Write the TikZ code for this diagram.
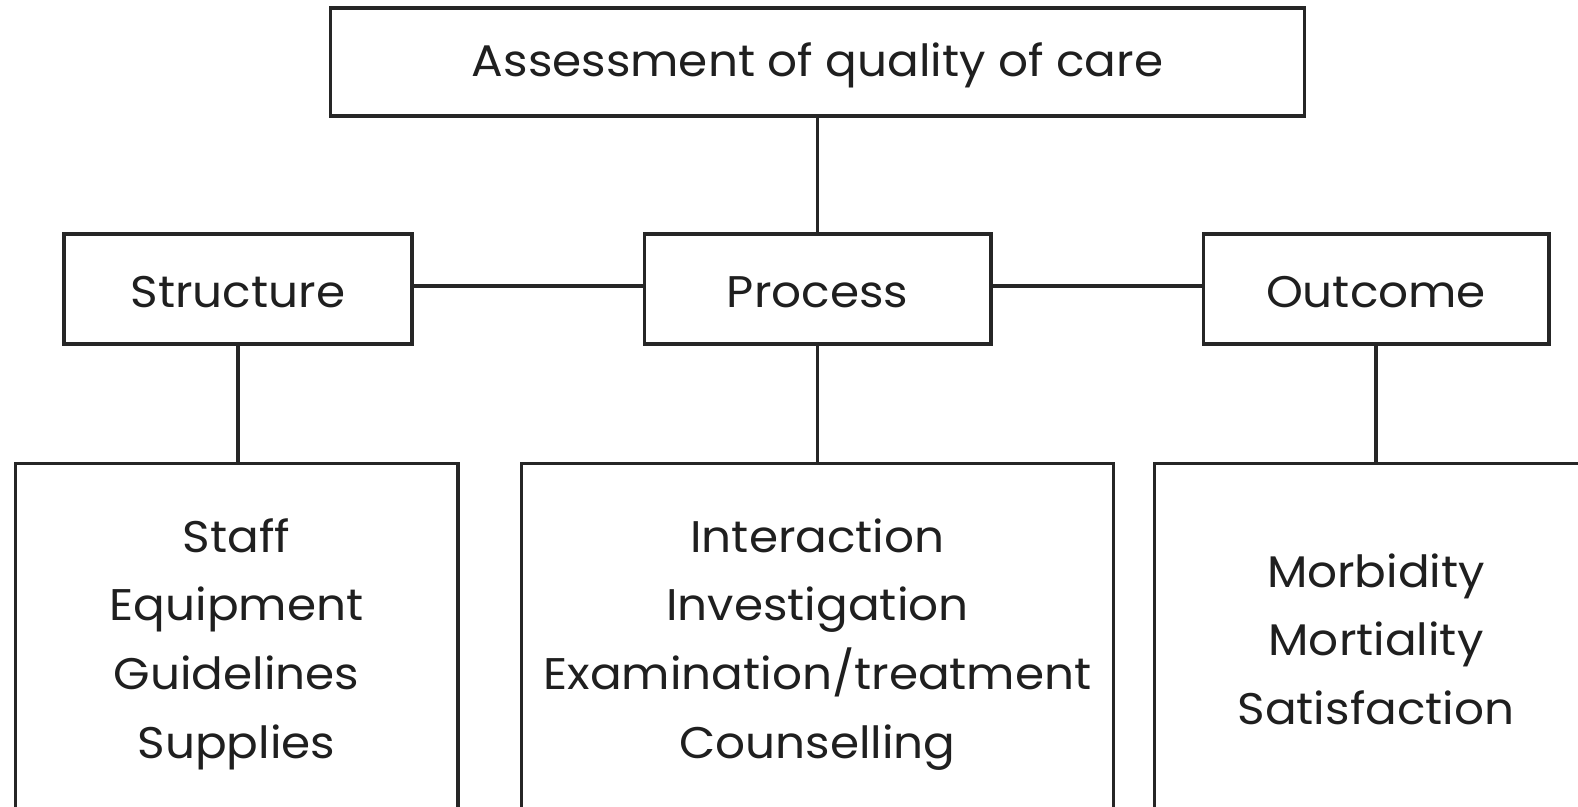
\documentclass[tikz,border=0pt]{standalone}
\usepackage{fontspec}
\setmainfont{Poppins}[FakeStretch=1.06]
\begin{document}
\begin{tikzpicture}[x=0.02cm,y=-0.02cm,
  box/.style={draw=black!85,line width=1.75pt,rectangle,inner sep=0pt},
  txt/.style={anchor=base,inner sep=0pt,font=\fontsize{25.2}{39.1}\selectfont,text=black!88},
  link/.style={draw=black!85,line width=1.75pt}]
\useasboundingbox (0,0) rectangle (1578,807);
\clip (0,0) rectangle (1578,807);
\fill[white] (0,0) rectangle (1578,807);
% boxes
\node[box,minimum width=19.5cm,minimum height=2.16cm] (top) at (817.5,62) {};
\node[box,minimum width=6.96cm,minimum height=2.2cm] (S) at (238,289) {};
\node[box,minimum width=6.94cm,minimum height=2.2cm] (P) at (817.5,289) {};
\node[box,minimum width=6.92cm,minimum height=2.2cm] (O) at (1376,289) {};
\node[box,minimum width=8.86cm,minimum height=7.2cm] (BS) at (236.5,643) {};
\node[box,minimum width=11.86cm,minimum height=7.2cm] (BP) at (817.5,643) {};
\node[box,minimum width=8.88cm,minimum height=7.2cm] (BO) at (1376,643) {};
% texts
\node[txt] (topT) at (top.center |- 0,77) {Assessment of quality of care};
\node[txt] (ST) at (S.center |- 0,308) {Structure};
\node[txt] (PT) at (P.center |- 0,308) {Process};
\node[txt] (OT) at (O.center |- 0,308) {Outcome};
\node[txt] (BST) at (BS.center |- 0,552) {\begin{tabular}[t]{@{}c@{}}Staff\\Equipment\\Guidelines\\Supplies\end{tabular}};
\node[txt] (BPT) at (BP.center |- 0,552) {\begin{tabular}[t]{@{}c@{}}Interaction\\Investigation\\Examination/treatment\\Counselling\end{tabular}};
\node[txt] (BOT) at (BO.center |- 0,587) {\begin{tabular}[t]{@{}c@{}}Morbidity\\Mortiality\\Satisfaction\end{tabular}};
% connectors
\draw[link] (top.south) -- (P.north);
\draw[link] ([yshift=0.06cm]S.east) -- ([yshift=0.06cm]P.west);
\draw[link] ([yshift=0.06cm]P.east) -- ([yshift=0.06cm]O.west);
\draw[link] (S.south) -- (S.south |- BS.north);
\draw[link] (P.south) -- (BP.north);
\draw[link] (O.south) -- (O.south |- BO.north);
\end{tikzpicture}
\end{document}
